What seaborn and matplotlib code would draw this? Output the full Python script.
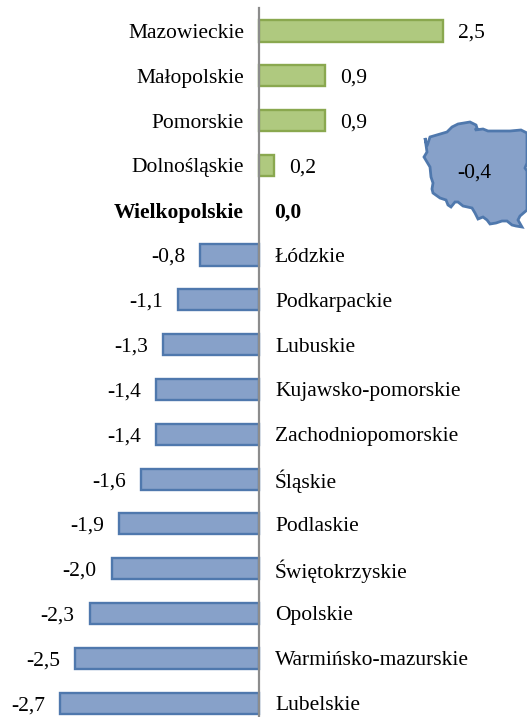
import pandas as pd
import seaborn as sns
import matplotlib.pyplot as plt
from matplotlib.patches import Polygon

regions = ['Mazowieckie', 'Małopolskie', 'Pomorskie', 'Dolnośląskie', 'Wielkopolskie',
           'Łódzkie', 'Podkarpackie', 'Lubuskie', 'Kujawsko-pomorskie', 'Zachodniopomorskie',
           'Śląskie', 'Podlaskie', 'Świętokrzyskie', 'Opolskie', 'Warmińsko-mazurskie', 'Lubelskie']
values = [2.5, 0.9, 0.9, 0.2, 0.0, -0.8, -1.1, -1.3, -1.4, -1.4, -1.6, -1.9, -2.0, -2.3, -2.5, -2.7]
poland_value = -0.4

# outline of the map inset, figure pixels from the top left
map_outline = [(425, 138), (427, 146), (430, 137), (447, 132), (450, 129), (452, 127), (458, 124),
               (470, 122), (476, 125), (477, 128), (475, 130), (483, 129), (488, 131), (495, 131),
               (510, 131), (521, 130), (527, 133), (527, 163), (525, 168), (527, 171), (527, 210),
               (520, 216), (518, 220), (522, 227), (516, 226), (512, 225), (507, 221), (502, 221),
               (496, 223), (490, 224), (487, 220), (483, 217), (478, 219), (475, 213), (472, 208),
               (463, 206), (458, 202), (455, 202), (451, 207), (448, 205), (446, 200), (440, 198),
               (433, 193), (432, 189), (433, 183), (431, 177), (430, 167), (427, 162), (424, 157),
               (427, 152)]

sns.set_theme(style='white')
plt.rcParams['font.family'] = ['Liberation Serif', 'DejaVu Serif']

df = pd.DataFrame({'region': regions, 'value': values})
df['up'] = df['value'] >= 0

fig = plt.figure(figsize=(5.27, 7.17), dpi=100)
ax = fig.add_axes([0, 0, 1, 709 / 717])

sns.barplot(data=df, y='region', x='value', hue='up', dodge=False, width=0.47, legend=False,
            saturation=1, palette={True: '#afc97f', False: '#87a1c9'}, ax=ax, orient='h')
for patch in ax.patches:
    patch.set_edgecolor('#8aa84f' if patch.get_width() > 0 else '#4f78ad')
    patch.set_linewidth(1.7 if patch.get_width() != 0 else 0)

ax.set_xlim(-259 / 73.65, 268 / 73.65)
ax.set_ylim(15.31, -0.513)
ax.set(xlabel='', ylabel='', xticks=[], yticks=[])
for side in ['top', 'right', 'bottom']:
    ax.spines[side].set_visible(False)
ax.spines['left'].set_position(('data', 0))
ax.spines['left'].set_color('#8c8c8c')
ax.spines['left'].set_linewidth(1.6)
ax.spines['left'].set_zorder(5)

for i, (name, val) in enumerate(zip(regions, values)):
    weight = 'bold' if val == 0 else 'normal'
    txt = f'{val:.1f}'.replace('.', ',')
    if val >= 0:
        ax.annotate(name, (0, i), xytext=(-15, 0), textcoords='offset pixels', ha='right',
                    va='center_baseline', fontsize=15.5, color='black', fontweight=weight)
        ax.annotate(txt, (val, i), xytext=(15, 0), textcoords='offset pixels', ha='left',
                    va='center_baseline', fontsize=15.5, color='black', fontweight=weight)
    else:
        ax.annotate(name, (0, i), xytext=(16, 0), textcoords='offset pixels', ha='left',
                    va='center_baseline', fontsize=15.5, color='black')
        ax.annotate(txt, (val, i), xytext=(-15, 0), textcoords='offset pixels', ha='right',
                    va='center_baseline', fontsize=15.5, color='black')

fig.add_artist(Polygon([(x / 527, 1 - y / 717) for x, y in map_outline], closed=True,
                       facecolor='#87a1c9', edgecolor='#4f78ad', linewidth=2,
                       transform=fig.transFigure))
fig.text(474 / 527, 1 - 171 / 717, str(poland_value).replace('.', ','), ha='center',
         va='center_baseline', fontsize=15.5, color='black')

fig.savefig('out.png', dpi=100)
